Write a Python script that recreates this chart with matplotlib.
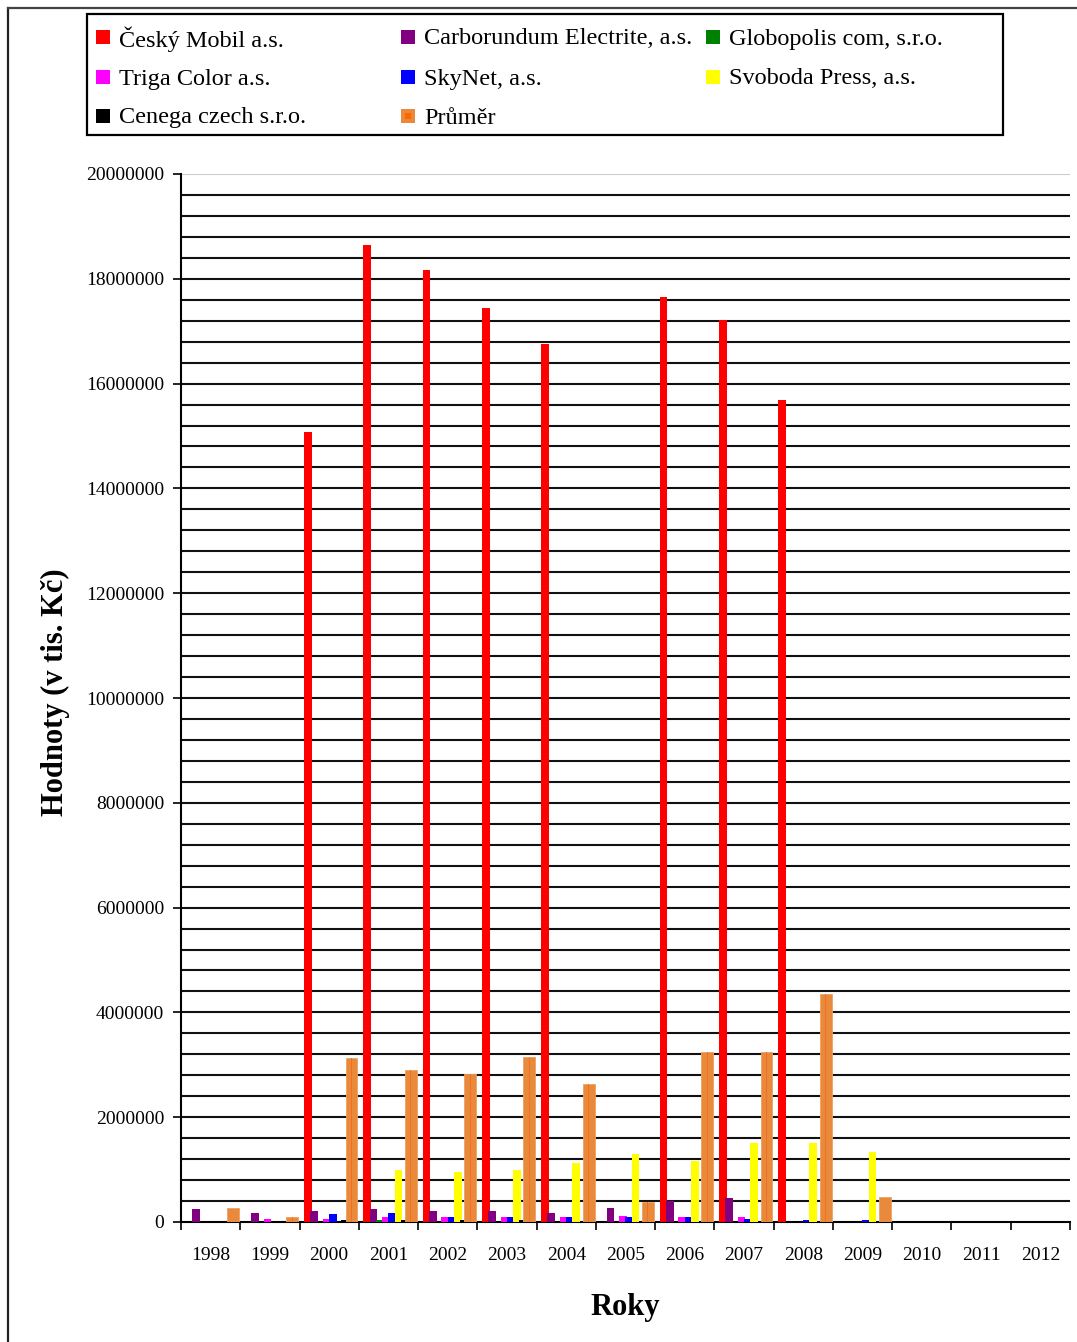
import numpy as np
import matplotlib
matplotlib.use("Agg")
import matplotlib.pyplot as plt
from matplotlib.patches import Rectangle
from matplotlib.ticker import MultipleLocator, FixedLocator, NullFormatter

plt.rcParams['font.family'] = ['Liberation Serif', 'DejaVu Serif']

# data (values in tis. Kc)
years = ['1998', '1999', '2000', '2001', '2002', '2003', '2004', '2005',
         '2006', '2007', '2008', '2009', '2010', '2011', '2012']
cesky_mobil = [0, 0, 15080000, 18650000, 18170000, 17440000, 16760000, 0,
               17650000, 17210000, 15690000, 0, 0, 0, 0]
carborundum = [250000, 170000, 210000, 250000, 210000, 210000, 170000, 270000,
               400000, 460000, 0, 0, 0, 0, 0]
globopolis = [0, 0, 0, 30000, 0, 0, 0, 0, 0, 0, 0, 0, 0, 0, 0]
triga = [0, 50000, 60000, 100000, 90000, 90000, 90000, 120000,
         100000, 90000, 0, 0, 0, 0, 0]
skynet = [0, 0, 150000, 180000, 90000, 90000, 90000, 90000,
          100000, 60000, 30000, 30000, 0, 0, 0]
svoboda = [0, 0, 0, 990000, 960000, 990000, 1120000, 1300000,
           1170000, 1510000, 1510000, 1340000, 0, 0, 0]
cenega = [0, 0, 40000, 40000, 40000, 30000, 0, 0, 0, 0, 0, 0, 0, 0, 0]
prumer = [270000, 100000, 3130000, 2900000, 2820000, 3150000, 2630000, 380000,
          3240000, 3240000, 4350000, 480000, 0, 0, 0]

series = [
    ('Český Mobil a.s.', cesky_mobil, '#FF0000'),
    ('Carborundum Electrite, a.s.', carborundum, '#800080'),
    ('Globopolis com, s.r.o.', globopolis, '#008000'),
    ('Triga Color a.s.', triga, '#FF00FF'),
    ('SkyNet, a.s.', skynet, '#0000FF'),
    ('Svoboda Press, a.s.', svoboda, '#FFFF00'),
    ('Cenega czech s.r.o.', cenega, '#000000'),
    ('Průměr', prumer, '#E8893C'),
]

W, H = 1077, 1342
fig = plt.figure(figsize=(W / 100, H / 100), dpi=100)

# pixel-coordinate overlay for the frame and legend
bg = fig.add_axes([0, 0, 1, 1])
bg.set_xlim(0, W)
bg.set_ylim(H, 0)
bg.axis('off')
bg.plot([8, 8], [8, H], color='#222222', lw=1.6)
bg.plot([8, W], [8, 8], color='#444444', lw=1.6)

# chart
ax = fig.add_axes([181 / W, 1 - 1222 / H, (1070 - 181) / W, (1222 - 174) / H])
x = np.arange(len(years))
step = 0.105
for k, (name, vals, col) in enumerate(series):
    if k == 7:
        ax.bar(x + 0.143 + k * step, vals, width=0.2, color=col,
               edgecolor='#F0A060', lw=0.6, zorder=3)
        ax.bar(x + 0.143 + k * step, vals, width=0.015, color='#F07020',
               lw=0, zorder=3)
    else:
        ax.bar(x + 0.143 + k * step, vals, width=0.13, color=col,
               lw=0, zorder=3)

ax.set_xlim(0, len(years))
ax.set_ylim(0, 20000000)

# gridlines every 400000
for v in np.arange(400000, 20000001, 400000):
    c = '#CCCCCC' if v == 20000000 else '#111111'
    ax.axhline(v, color=c, lw=1.5, zorder=1)

ax.yaxis.set_major_locator(MultipleLocator(2000000))
ax.yaxis.set_major_formatter(matplotlib.ticker.FuncFormatter(lambda v, p: f'{int(v)}'))
ax.tick_params(axis='y', labelsize=14, length=6, width=1.2, pad=6)

ax.xaxis.set_major_locator(FixedLocator(np.arange(0, len(years) + 1)))
ax.xaxis.set_major_formatter(NullFormatter())
ax.xaxis.set_minor_locator(FixedLocator(x + 0.5))
ax.set_xticklabels(years, minor=True)
ax.tick_params(axis='x', which='major', length=6, width=1.2, direction='out')
ax.tick_params(axis='x', which='minor', length=0, labelsize=14, pad=18)

for s in ['top', 'right']:
    ax.spines[s].set_visible(False)
ax.spines['left'].set_linewidth(1.5)
ax.spines['bottom'].set_linewidth(1.5)

fig.text(625 / W, 1 - 1308 / H, 'Roky', ha='center', va='center',
         fontsize=22, fontweight='bold')
fig.text(55 / W, 1 - 692 / H, 'Hodnoty (v tis. Kč)', ha='center', va='center',
         rotation=90, fontsize=22, fontweight='bold')

# legend
bg.add_patch(Rectangle((87, 14), 1003 - 87, 135 - 14, fill=False,
                       edgecolor='black', lw=1.6))
col_x = [96, 401, 706]
row_y = [37, 77, 116]
for k, (name, vals, col) in enumerate(series):
    cx = col_x[k % 3]
    cy = row_y[k // 3]
    bg.add_patch(Rectangle((cx, cy - 7), 14, 14, facecolor=col, edgecolor='none'))
    if k == 7:
        bg.add_patch(Rectangle((cx + 4, cy - 3), 6, 6, facecolor='#FF6600',
                               edgecolor='none'))
    bg.text(cx + 23, cy + 2, name, ha='left', va='center', fontsize=17.5)

fig.savefig('out.png', dpi=100)
